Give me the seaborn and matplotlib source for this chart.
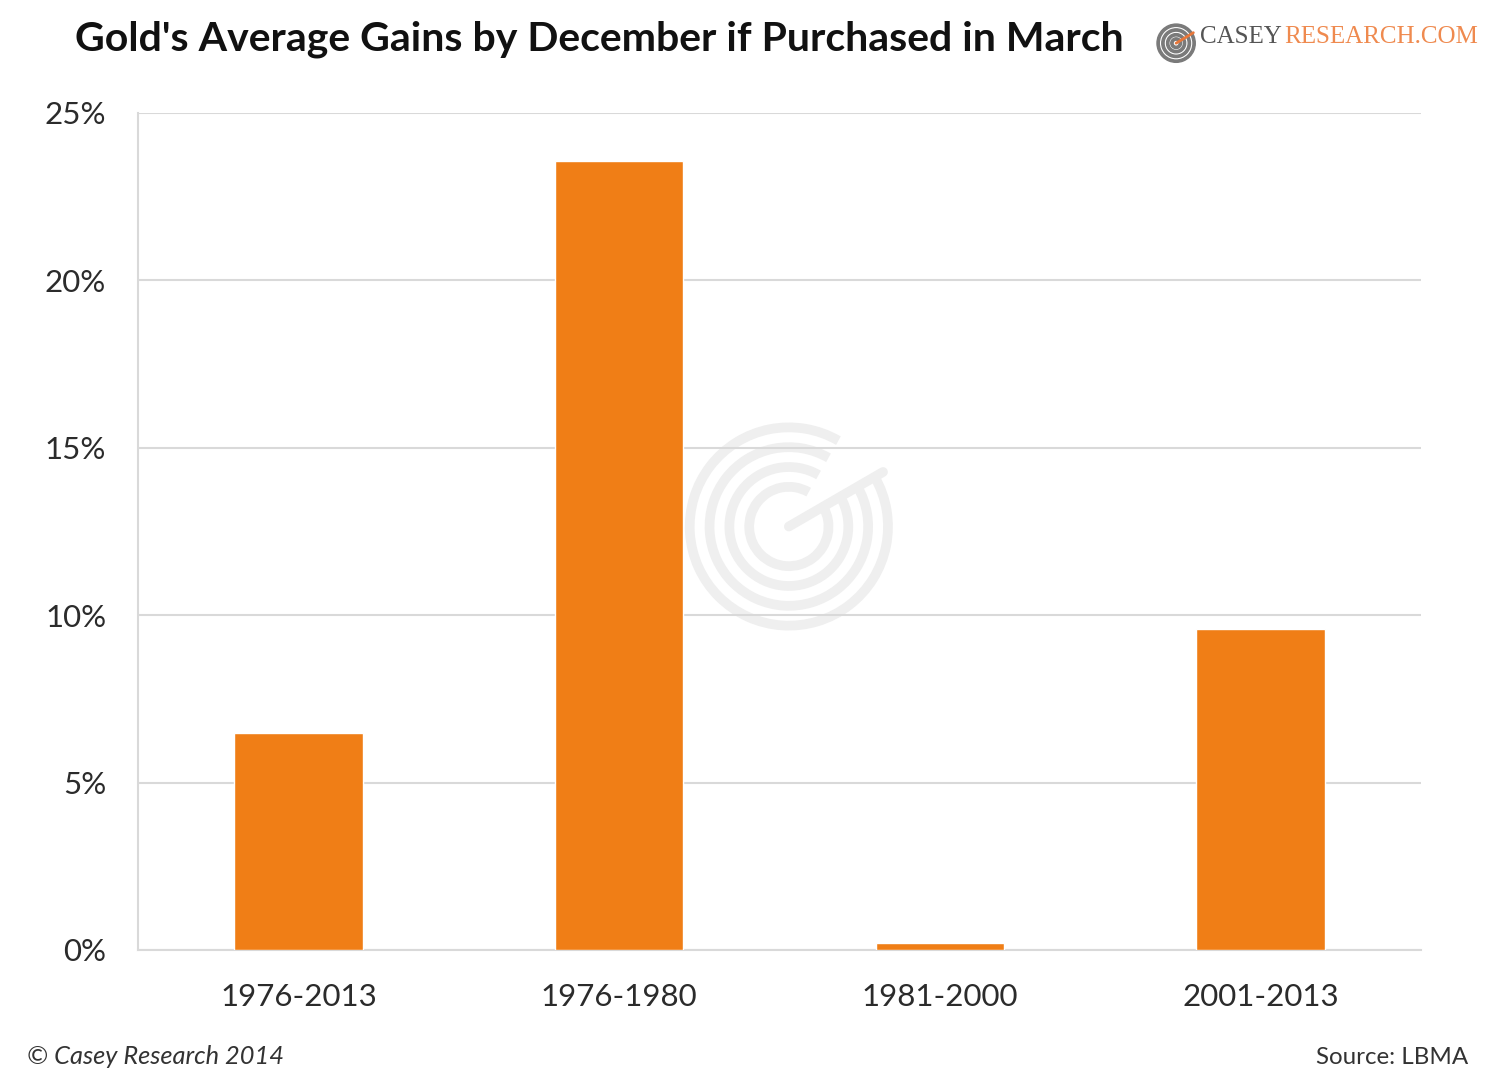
import matplotlib
matplotlib.use("Agg")
import matplotlib.pyplot as plt
from matplotlib.patches import Arc, Wedge
import seaborn as sns
import pandas as pd

# data
periods = ["1976-2013", "1976-1980", "1981-2000", "2001-2013"]
gains = [6.48, 23.57, 0.21, 9.59]
y_ticks = [0, 5, 10, 15, 20, 25]
y_labels = ["0%", "5%", "10%", "15%", "20%", "25%"]

df = pd.DataFrame({"period": periods, "gain": gains})

sns.set_style("white")
plt.rcParams["font.family"] = ["Lato", "DejaVu Sans"]

fig = plt.figure(figsize=(15.04, 10.8), dpi=100)
ax = fig.add_axes([0.0918, 0.1204, 0.853, 0.775])

# faint watermark behind the bars
wm = fig.add_axes([0.452, 0.41, 0.145, 0.205], zorder=0)
wm.set_aspect("equal")
wm.axis("off")
for r in [1.0, 0.8, 0.6, 0.4]:
    wm.add_patch(Arc((0, 0), 2 * r, 2 * r, theta1=60, theta2=390, color="#efefef", lw=7))
wm.plot([0, 0.95], [0, 0.55], color="#efefef", lw=7)
wm.set_xlim(-1.1, 1.1)
wm.set_ylim(-1.1, 1.1)
ax.set_zorder(1)
ax.patch.set_alpha(0)

sns.barplot(data=df, x="period", y="gain", color="#f07e16", saturation=1,
            width=0.4, ax=ax, zorder=3)

ax.set_ylim(0, 25)
ax.set_xlim(-0.5, 3.5)
ax.set_yticks(y_ticks)
ax.set_yticklabels(y_labels)
ax.yaxis.grid(True, color="#d9d9d9", lw=1.5)
ax.set_axisbelow(True)
ax.set_xlabel("")
ax.set_ylabel("")

for side in ["top", "right"]:
    ax.spines[side].set_visible(False)
for side in ["left", "bottom"]:
    ax.spines[side].set_color("#d9d9d9")
    ax.spines[side].set_linewidth(1.5)

ax.tick_params(axis="y", length=0, pad=23, labelsize=22.5, labelcolor="#2b2b2b")
ax.tick_params(axis="x", which="major", length=0, pad=24, labelsize=22.5, labelcolor="#2b2b2b")
ax.set_xticks([-0.5, 0.5, 1.5, 2.5, 3.5], minor=True)
ax.tick_params(axis="x", which="minor", length=9, color="#d9d9d9", width=1.5)

fig.text(0.05, 0.964, "Gold's Average Gains by December if Purchased in March",
         fontsize=29.5, fontweight="bold", color="#111111", va="center", ha="left")

# logo
logo = fig.add_axes([0.768, 0.937, 0.028, 0.046])
logo.set_aspect("equal")
logo.axis("off")
for r in [1.0, 0.75, 0.5, 0.28]:
    logo.add_patch(Wedge((0, 0), r, 40, 400, width=0.12, color="#7a7a7a"))
logo.plot([0, 0.9], [0, 0.55], color="#e8773a", lw=2)
logo.set_xlim(-1.1, 1.1)
logo.set_ylim(-1.1, 1.1)
fig.text(0.798, 0.966, "CASEY", fontsize=18, family="Liberation Serif",
         color="#555555", va="center", ha="left")
fig.text(0.854, 0.966, "RESEARCH.COM", fontsize=18, family="Liberation Serif",
         color="#ef8a4f", va="center", ha="left")

fig.text(0.018, 0.022, "\u00a9 Casey Research 2014", fontsize=18.3, style="italic",
         color="#333333", va="center", ha="left")
fig.text(0.976, 0.021, "Source: LBMA", fontsize=17.4, color="#333333",
         va="center", ha="right")

fig.savefig("out.png", dpi=100, facecolor="white")
